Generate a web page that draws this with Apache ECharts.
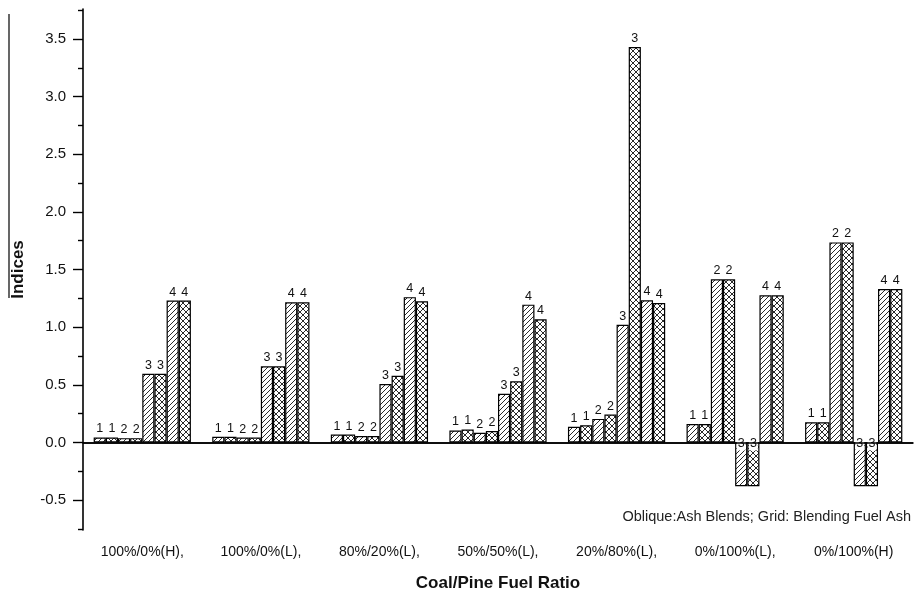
<!DOCTYPE html>
<html>
<head>
<meta charset="utf-8">
<script src="https://cdn.jsdelivr.net/npm/echarts@6/dist/echarts.min.js"></script>
<style>
  html, body { margin: 0; padding: 0; background: #fff; }
  #chart { width: 914px; height: 597px; }
</style>
</head>
<body>
<div id="chart"></div>
<script>
// Coal/pine fuel ratios along the x axis
const ratios = ['100%/0%(H),', '100%/0%(L),', '80%/20%(L),', '50%/50%(L),', '20%/80%(L),', '0%/100%(L),', '0%/100%(H)'];

// Index values: oblique = ash blends, grid = blending fuel ash
const ashBlendIdx1 = [0.043, 0.048, 0.068, 0.103, 0.135, 0.160, 0.175];
const fuelAshIdx1  = [0.043, 0.048, 0.068, 0.112, 0.149, 0.160, 0.175];
const ashBlendIdx2 = [0.037, 0.042, 0.055, 0.083, 0.204, 1.415, 1.735];
const fuelAshIdx2  = [0.037, 0.042, 0.055, 0.098, 0.241, 1.415, 1.735];
const ashBlendIdx3 = [0.595, 0.660, 0.506, 0.422, 1.020, -0.380, -0.380];
const fuelAshIdx3  = [0.595, 0.660, 0.578, 0.530, 3.430, -0.380, -0.380];
const ashBlendIdx4 = [1.230, 1.215, 1.260, 1.195, 1.233, 1.276, 1.330];
const fuelAshIdx4  = [1.230, 1.215, 1.225, 1.068, 1.210, 1.276, 1.330];

// Y axis tick values
const yMajorTicks = [-0.5, 0, 0.5, 1.0, 1.5, 2.0, 2.5, 3.0, 3.5];
const yMinorTicks = [-0.75, -0.25, 0.25, 0.75, 1.25, 1.75, 2.25, 2.75, 3.25, 3.75];
const yMin = -0.76, yMax = 3.76;

const FONT = '"Liberation Sans", Arial, Helvetica, sans-serif';

// Fill patterns: single diagonal hatch and diagonal cross-hatch
function hatchTile(cross) {
  const s = cross ? 6 : 5;
  const c = document.createElement('canvas');
  c.width = s; c.height = s;
  const g = c.getContext('2d');
  g.fillStyle = '#fff';
  g.fillRect(0, 0, s, s);
  g.strokeStyle = '#2a2a2a';
  g.lineWidth = 1;
  g.beginPath();
  g.moveTo(-1, s + 1); g.lineTo(s + 1, -1);
  g.moveTo(-1, 1); g.lineTo(1, -1);
  g.moveTo(s - 1, s + 1); g.lineTo(s + 1, s - 1);
  if (cross) {
    g.moveTo(-1, -1); g.lineTo(s + 1, s + 1);
    g.moveTo(-1, s - 1); g.lineTo(1, s + 1);
    g.moveTo(s - 1, -1); g.lineTo(s + 1, 1);
  }
  g.stroke();
  return { image: c, repeat: 'repeat' };
}
const obliqueFill = hatchTile(false);
const gridFill = hatchTile(true);

const groups = [
  { idx: '1', oblique: ashBlendIdx1, grid: fuelAshIdx1 },
  { idx: '2', oblique: ashBlendIdx2, grid: fuelAshIdx2 },
  { idx: '3', oblique: ashBlendIdx3, grid: fuelAshIdx3 },
  { idx: '4', oblique: ashBlendIdx4, grid: fuelAshIdx4 }
];

function barData(values) {
  return values.map(v => v < 0 ? {
    value: v,
    label: { position: 'insideTop', distance: 0, offset: [0, -5], backgroundColor: '#fff', padding: [0, 1] }
  } : v);
}

function makeSeries(name, values, fill, idx) {
  return {
    name: name,
    type: 'bar',
    data: barData(values),
    barGap: '0%',
    barCategoryGap: '18%',
    itemStyle: { color: fill, borderColor: '#000', borderWidth: 1.2 },
    label: {
      show: true, position: 'top', distance: 2,
      formatter: () => idx,
      fontFamily: FONT, fontSize: 12.5, color: '#111'
    }
  };
}

const series = [];
groups.forEach(gr => {
  series.push(makeSeries('Ash Blends ' + gr.idx, gr.oblique, obliqueFill, gr.idx));
  series.push(makeSeries('Blending Fuel Ash ' + gr.idx, gr.grid, gridFill, gr.idx));
});
// zero baseline across the plot
series[0].markLine = {
  silent: true, symbol: 'none', label: { show: false },
  lineStyle: { color: '#000', width: 1.5, type: 'solid' },
  data: [{ yAxis: 0 }]
};

const chart = echarts.init(document.getElementById('chart'), null, { renderer: 'canvas' });
chart.setOption({
  animation: false,
  backgroundColor: '#fff',
  grid: { left: 83, right: 1, top: 9, bottom: 66 },
  xAxis: [
    {
      type: 'category', data: ratios,
      axisLine: { lineStyle: { color: '#000', width: 1.6 } },
      axisTick: { alignWithLabel: true, length: 9, lineStyle: { color: '#000', width: 1.4 } },
      axisLabel: { fontFamily: FONT, fontSize: 14, color: '#111', margin: 15 },
      name: 'Coal/Pine Fuel Ratio', nameLocation: 'middle', nameGap: 45,
      nameTextStyle: { fontFamily: FONT, fontSize: 17, fontWeight: 'bold', color: '#111' }
    },
    {
      type: 'category', data: ratios, position: 'bottom',
      axisLine: { show: false },
      axisTick: { alignWithLabel: false, length: 5, lineStyle: { color: '#000', width: 1.4 } },
      axisLabel: { show: false }
    }
  ],
  yAxis: [
    {
      type: 'value', min: yMin, max: yMax,
      axisLine: { show: true, lineStyle: { color: '#000', width: 1.6 } },
      axisTick: { show: true, length: 10, customValues: yMajorTicks, lineStyle: { color: '#000', width: 1.4 } },
      axisLabel: {
        customValues: yMajorTicks, formatter: v => v.toFixed(1),
        fontFamily: FONT, fontSize: 15, color: '#111', margin: 17
      },
      splitLine: { show: false },
      name: 'Indices', nameLocation: 'middle', nameGap: 56, nameRotate: 90,
      nameTextStyle: { fontFamily: FONT, fontSize: 17, fontWeight: 'bold', color: '#111' }
    },
    {
      type: 'value', min: yMin, max: yMax, position: 'left',
      axisLine: { show: false },
      axisTick: { show: true, length: 5, customValues: yMinorTicks, lineStyle: { color: '#000', width: 1.4 } },
      axisLabel: { show: false },
      splitLine: { show: false }
    }
  ],
  graphic: [
    {
      type: 'line', silent: true,
      shape: { x1: 9, y1: 14, x2: 9, y2: 298 },
      style: { stroke: '#000', lineWidth: 1.2 }
    },
    {
      type: 'text', silent: true, right: 3, top: 509,
      style: { text: 'Oblique:Ash Blends; Grid: Blending Fuel Ash', font: '14.5px ' + FONT, fill: '#222' }
    }
  ],
  series: series
});
</script>
</body>
</html>
